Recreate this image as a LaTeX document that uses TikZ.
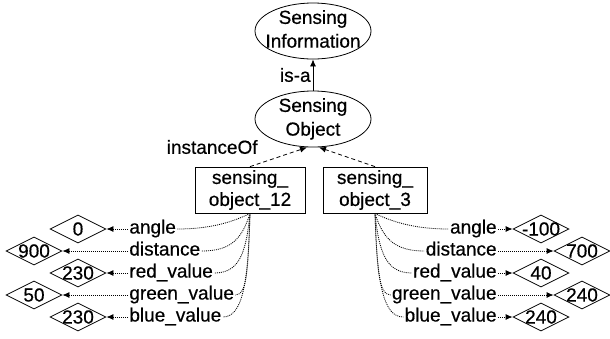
\documentclass[tikz,border=0pt]{standalone}
\usepackage{fontspec}
\setmainfont[FakeBold=0.5]{Liberation Sans}
\usetikzlibrary{shapes.geometric,arrows.meta}
\newcommand\twolines[2]{\makebox[0pt]{\renewcommand\arraystretch{1.08}\begin{tabular}{@{}c@{}}#1\\#2\end{tabular}}}
\begin{document}
\begin{tikzpicture}[x=1pt,y=-1pt,
  font=\fontsize{19}{22}\selectfont,
  line width=0.8pt,
  concept/.style={draw,ellipse,inner xsep=0pt,inner ysep=-5pt,minimum width=116pt,minimum height=56pt},
  inst/.style={draw,rectangle,inner sep=0pt,minimum height=46pt,align=center},
  val/.style={draw,diamond,inner sep=0pt,minimum width=56pt,minimum height=28pt},
  prop/.style={inner sep=1pt,text height=13pt,text depth=4pt},
  dotline/.style={line width=0.8pt,dash pattern=on 1pt off 1pt},
  tip/.style={-{Latex[length=7pt,width=6pt]}},
]
\useasboundingbox (0,0) rectangle (610,338);

% concepts
\node[concept] (info) at (313,31) {\twolines{Sensing}{Information}};
\node[concept] (sobj) at (313,119) {\twolines{Sensing}{Object}};
\draw[tip] (sobj.north) -- node[left,inner sep=2pt] (isa) {is-a} (info.south);

% instances
\node[inst,minimum width=110pt] (b1) at (250,190) {sensing\_\\object\_12};
\node[inst,minimum width=104pt] (b2) at (375,190) {sensing\_\\object\_3};
\coordinate (t1) at ([xshift=-6pt]sobj.south);
\coordinate (t2) at ([xshift=6pt]sobj.south);
\draw[tip,dashed,dash pattern=on 4pt off 3pt] (b1.north) -- (t1);
\draw[tip,dashed,dash pattern=on 4pt off 3pt] (b2.north) -- (t2);
\node[anchor=east,inner sep=0pt] (iof) at (258,147) {instanceOf};

% left properties
\node[prop,anchor=west] (la) at (128,229) {angle};
\node[prop,anchor=west] (ld) at (128,251) {distance};
\node[prop,anchor=west] (lr) at (128,273) {red\_value};
\node[prop,anchor=west] (lg) at (128,295) {green\_value};
\node[prop,anchor=west] (lb) at (128,317) {blue\_value};

\node[val] (va) at (78,229) {\makebox[0pt]{0}};
\node[val] (vd) at (34,251) {\makebox[0pt]{900}};
\node[val] (vr) at (78,273) {\makebox[0pt]{230}};
\node[val] (vg) at (34,295) {\makebox[0pt]{50}};
\node[val] (vb) at (78,317) {\makebox[0pt]{230}};

\draw[dotline] (b1.south) .. controls +(-20,10) and +(30,0) .. (la.east);
\draw[dotline] (b1.south) .. controls +(-8,25) and +(30,0) .. (ld.east);
\draw[dotline] (b1.south) .. controls +(-4,40) and +(25,0) .. (lr.east);
\draw[dotline] (b1.south) .. controls +(-2,55) and +(12,0) .. (lg.east);
\draw[dotline] (b1.south) .. controls +(-2,70) and +(20,0) .. (lb.east);

\draw[dotline,tip] (la.west) -- (va.east);
\draw[dotline,tip] (ld.west) -- (vd.east);
\draw[dotline,tip] (lr.west) -- (vr.east);
\draw[dotline,tip] (lg.west) -- (vg.east);
\draw[dotline,tip] (lb.west) -- (vb.east);

% right properties
\node[prop,anchor=east] (ra) at (498,229) {angle};
\node[prop,anchor=east] (rd) at (498,251) {distance};
\node[prop,anchor=east] (rr) at (498,273) {red\_value};
\node[prop,anchor=east] (rg) at (498,295) {green\_value};
\node[prop,anchor=east] (rb) at (498,317) {blue\_value};

\node[val] (wa) at (541,229) {\makebox[0pt]{-100}};
\node[val] (wd) at (582,251) {\makebox[0pt]{700}};
\node[val] (wr) at (541,273) {\makebox[0pt]{40}};
\node[val] (wg) at (582,295) {\makebox[0pt]{240}};
\node[val] (wb) at (541,317) {\makebox[0pt]{240}};

\draw[dotline] (b2.south) .. controls +(20,10) and +(-30,0) .. (ra.west);
\draw[dotline] (b2.south) .. controls +(8,25) and +(-30,0) .. (rd.west);
\draw[dotline] (b2.south) .. controls +(4,40) and +(-25,0) .. (rr.west);
\draw[dotline] (b2.south) .. controls +(2,55) and +(-12,0) .. (rg.west);
\draw[dotline] (b2.south) .. controls +(2,70) and +(-20,0) .. (rb.west);

\draw[dotline,tip] (ra.east) -- (wa.west);
\draw[dotline,tip] (rd.east) -- (wd.west);
\draw[dotline,tip] (rr.east) -- (wr.west);
\draw[dotline,tip] (rg.east) -- (wg.west);
\draw[dotline,tip] (rb.east) -- (wb.west);
\end{tikzpicture}
\end{document}
